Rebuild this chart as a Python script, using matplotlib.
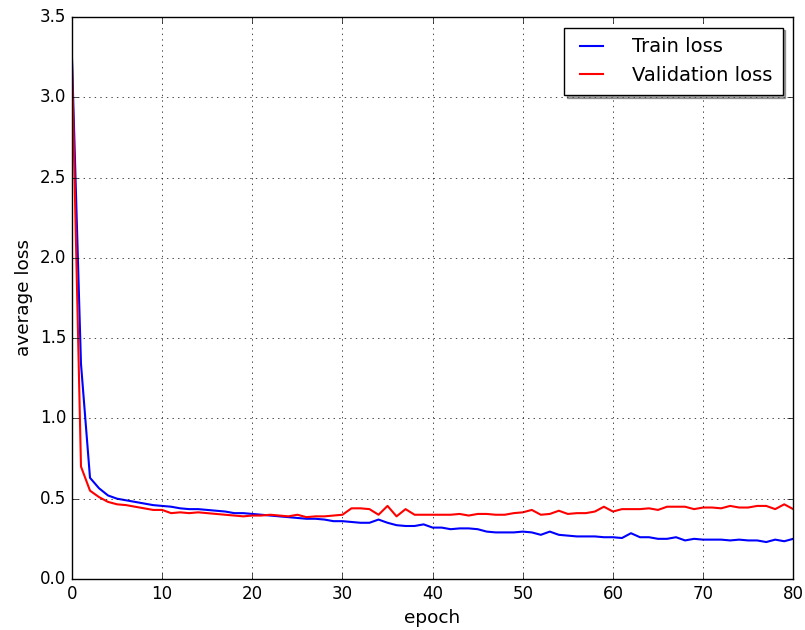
import numpy as np
import matplotlib
matplotlib.use('Agg')
import matplotlib.pyplot as plt

# values, one per epoch (0..80)
epochs = np.arange(81)
train_loss = [3.25, 1.34, 0.63, 0.565, 0.52, 0.50, 0.49, 0.48, 0.47, 0.46,
              0.455, 0.45, 0.44, 0.435, 0.435, 0.43, 0.425, 0.42, 0.41, 0.41,
              0.405, 0.40, 0.395, 0.39, 0.385, 0.38, 0.375, 0.375, 0.37, 0.36,
              0.36, 0.355, 0.35, 0.35, 0.37, 0.35, 0.335, 0.33, 0.33, 0.34,
              0.32, 0.32, 0.31, 0.315, 0.315, 0.31, 0.295, 0.29, 0.29, 0.29,
              0.295, 0.29, 0.275, 0.295, 0.275, 0.27, 0.265, 0.265, 0.265, 0.26,
              0.26, 0.255, 0.285, 0.26, 0.26, 0.25, 0.25, 0.26, 0.24, 0.25,
              0.245, 0.245, 0.245, 0.24, 0.245, 0.24, 0.24, 0.23, 0.245, 0.235,
              0.25]
val_loss = [3.22, 0.70, 0.55, 0.51, 0.48, 0.465, 0.46, 0.45, 0.44, 0.43,
            0.43, 0.41, 0.415, 0.41, 0.415, 0.41, 0.405, 0.40, 0.395, 0.39,
            0.395, 0.395, 0.40, 0.395, 0.39, 0.40, 0.385, 0.39, 0.39, 0.395,
            0.40, 0.44, 0.44, 0.435, 0.40, 0.455, 0.39, 0.435, 0.40, 0.40,
            0.40, 0.40, 0.40, 0.405, 0.395, 0.405, 0.405, 0.40, 0.40, 0.41,
            0.415, 0.43, 0.40, 0.405, 0.425, 0.405, 0.41, 0.41, 0.42, 0.45,
            0.42, 0.435, 0.435, 0.435, 0.44, 0.43, 0.45, 0.45, 0.45, 0.435,
            0.445, 0.445, 0.44, 0.455, 0.445, 0.445, 0.455, 0.455, 0.435, 0.465,
            0.435]

plt.style.use('classic')
plt.rcParams['figure.facecolor'] = 'white'
plt.rcParams['savefig.facecolor'] = 'white'

fig = plt.figure(figsize=(8.05, 6.3), dpi=100)
ax = fig.add_axes([0.0894, 0.081, 0.896, 0.892])

ax.plot(epochs, train_loss, color='b', linewidth=1.5, label='Train loss')
ax.plot(epochs, val_loss, color='r', linewidth=1.5, label='Validation loss')

ax.set_xlim(0, 80)
ax.set_ylim(0, 3.5)
ax.set_xlabel('epoch', fontsize=13.3)
ax.set_ylabel('average loss', fontsize=13.3)
ax.grid(True)
ax.legend(loc='upper right', shadow=True, fontsize=14, borderpad=0.5,
          handlelength=1.8, handletextpad=1.2, labelspacing=0.5,
          borderaxespad=0.55)

fig.savefig('out.png', dpi=100)
